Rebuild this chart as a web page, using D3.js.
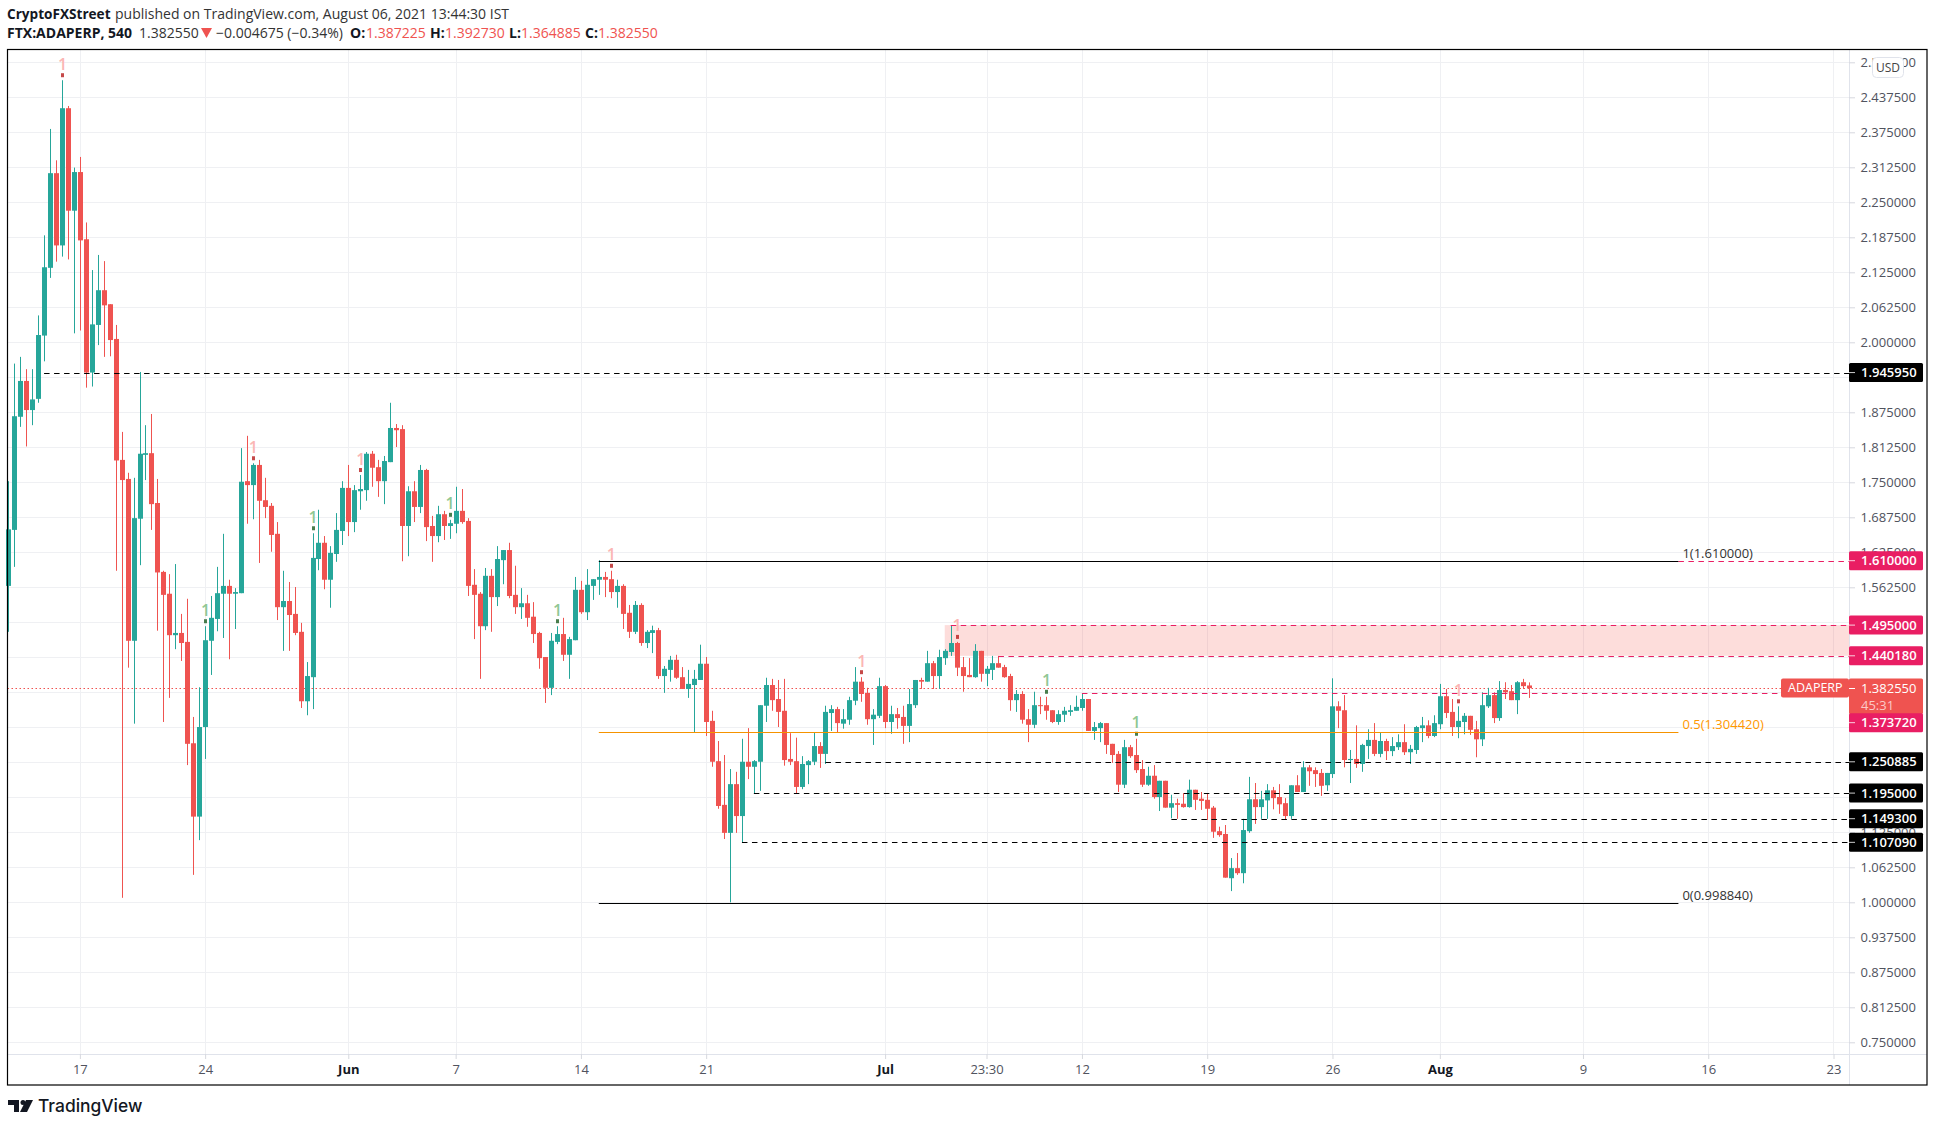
<!DOCTYPE html>
<html lang="en">
<head>
<meta charset="UTF-8">
<title>ADAPERP</title>
<style>
    body { margin: 0; background: #fff; }
    svg { display: block; }
    text { font-family: "Open Sans", Roboto, sans-serif; font-size: 13px; fill: #131722; }
    .axis text { font-family: "Open Sans", Roboto, sans-serif; font-size: 13px; fill: #50535e; }
    .axis .domain { display: none; }
    .axis line { stroke: #d6d8de; }
    .month { font-weight: 700; fill: #131722 !important; }
</style>
<script src="https://d3js.org/d3.v7.min.js"></script>
</head>
<body>
<svg width="1935" height="1127"></svg>
<script>
const opens = [
1.565,1.665,1.867,1.931,1.879,1.899,2.012,2.133,2.302,2.173,2.418,2.235,2.304,2.184,1.946,2.031,2.093,2.068,2.006,1.790,
1.756,1.467,1.685,1.799,1.802,1.713,1.590,1.551,1.477,1.481,1.465,1.284,1.153,1.313,1.467,1.506,1.551,1.565,1.551,1.552,
1.752,1.745,1.781,1.718,1.708,1.658,1.527,1.538,1.515,1.483,1.359,1.402,1.613,1.642,1.576,1.622,1.663,1.740,1.679,1.734,
1.736,1.801,1.777,1.752,1.786,1.847,1.845,1.672,1.734,1.706,1.772,1.672,1.654,1.693,1.672,1.676,1.699,1.681,1.567,1.551,
1.493,1.583,1.545,1.611,1.629,1.549,1.527,1.534,1.510,1.481,1.438,1.383,1.465,1.479,1.442,1.468,1.558,1.518,1.565,1.576,
1.581,1.577,1.554,1.565,1.517,1.483,1.531,1.463,1.481,1.486,1.404,1.415,1.433,1.402,1.381,1.388,1.397,1.426,1.324,1.252,
1.174,1.124,1.211,1.154,1.251,1.242,1.251,1.351,1.388,1.363,1.342,1.256,1.252,1.206,1.245,1.251,1.279,1.265,1.338,1.345,
1.319,1.326,1.360,1.394,1.374,1.327,1.333,1.386,1.322,1.336,1.331,1.315,1.352,1.397,1.394,1.427,1.404,1.436,1.447,1.463,
1.420,1.406,1.402,1.449,1.408,1.415,1.427,1.420,1.404,1.361,1.372,1.327,1.317,1.352,1.352,1.343,1.322,1.335,1.340,1.342,
1.347,1.363,1.306,1.311,1.320,1.283,1.265,1.210,1.277,1.263,1.238,1.210,1.226,1.188,1.217,1.169,1.177,1.176,1.170,1.201,
1.185,1.183,1.169,1.127,1.122,1.043,1.061,1.052,1.127,1.184,1.170,1.182,1.200,1.188,1.177,1.154,1.209,1.197,1.241,1.236,
1.231,1.209,1.229,1.350,1.343,1.254,1.256,1.247,1.279,1.290,1.265,1.288,1.270,1.277,1.286,1.268,1.272,1.311,1.316,1.297,
1.318,1.368,1.340,1.313,1.322,1.333,1.309,1.291,1.350,1.370,1.329,1.379,1.377,1.361,1.393,1.387225
];
const highs = [
1.752,1.962,1.974,1.952,1.952,2.048,2.191,2.381,2.325,2.468,2.422,2.312,2.331,2.214,2.129,2.156,2.145,2.068,2.031,1.840,
1.767,1.758,1.947,1.852,1.872,1.756,1.592,1.586,1.604,1.515,1.542,1.331,1.384,1.493,1.547,1.599,1.658,1.576,1.561,1.811,
1.833,1.784,1.790,1.758,1.713,1.679,1.592,1.572,1.563,1.499,1.429,1.659,1.701,1.654,1.636,1.695,1.752,1.781,1.745,1.763,
1.804,1.806,1.790,1.797,1.892,1.854,1.852,1.743,1.752,1.781,1.774,1.690,1.708,1.699,1.683,1.742,1.738,1.686,1.595,1.554,
1.597,1.595,1.636,1.629,1.642,1.601,1.561,1.549,1.536,1.483,1.438,1.481,1.493,1.508,1.474,1.581,1.574,1.595,1.577,1.611,
1.590,1.592,1.576,1.568,1.531,1.538,1.534,1.486,1.494,1.490,1.422,1.440,1.442,1.420,1.415,1.415,1.460,1.438,1.342,1.288,
1.263,1.238,1.233,1.292,1.311,1.254,1.352,1.401,1.399,1.397,1.399,1.302,1.294,1.261,1.254,1.304,1.286,1.351,1.352,1.349,
1.345,1.367,1.420,1.402,1.383,1.345,1.401,1.388,1.351,1.347,1.351,1.381,1.397,1.401,1.449,1.431,1.451,1.452,1.495,1.465,
1.438,1.436,1.461,1.449,1.422,1.440,1.440,1.424,1.408,1.379,1.377,1.345,1.376,1.367,1.367,1.343,1.343,1.349,1.352,1.369,
1.373,1.363,1.322,1.322,1.320,1.283,1.270,1.290,1.281,1.292,1.254,1.242,1.245,1.217,1.217,1.192,1.185,1.195,1.219,1.201,
1.197,1.195,1.172,1.135,1.138,1.079,1.088,1.149,1.224,1.213,1.199,1.211,1.206,1.211,1.186,1.209,1.227,1.252,1.245,1.241,
1.238,1.231,1.400,1.359,1.370,1.272,1.316,1.283,1.309,1.320,1.304,1.292,1.295,1.300,1.318,1.281,1.315,1.331,1.325,1.334,
1.390,1.381,1.363,1.350,1.338,1.333,1.324,1.375,1.383,1.375,1.395,1.393,1.388,1.395,1.399,1.39273
];
const lows = [
1.483,1.599,1.849,1.814,1.852,1.892,1.966,2.115,2.144,2.153,2.148,2.016,2.021,1.919,1.921,1.995,1.974,1.975,1.592,1.008,
1.419,1.319,1.602,1.754,1.665,1.485,1.322,1.365,1.452,1.431,1.245,1.049,1.111,1.256,1.406,1.484,1.472,1.434,1.488,1.552,
1.676,1.684,1.606,1.686,1.626,1.504,1.449,1.449,1.477,1.347,1.334,1.345,1.593,1.559,1.526,1.608,1.638,1.654,1.661,1.701,
1.717,1.742,1.724,1.711,1.786,1.813,1.609,1.618,1.679,1.695,1.645,1.608,1.643,1.647,1.649,1.659,1.676,1.547,1.470,1.399,
1.486,1.483,1.529,1.568,1.543,1.515,1.506,1.492,1.463,1.417,1.356,1.370,1.461,1.431,1.399,1.468,1.515,1.504,1.540,1.549,
1.545,1.543,1.526,1.488,1.472,1.479,1.458,1.454,1.445,1.399,1.374,1.394,1.399,1.381,1.365,1.304,1.397,1.297,1.242,1.167,
1.113,0.9999,1.124,1.107,1.220,1.195,1.199,1.322,1.342,1.313,1.244,1.245,1.195,1.202,1.211,1.245,1.240,1.247,1.306,1.304,
1.310,1.317,1.352,1.358,1.317,1.281,1.329,1.311,1.301,1.310,1.283,1.286,1.347,1.381,1.394,1.381,1.381,1.424,1.440,1.404,
1.376,1.402,1.401,1.394,1.386,1.397,1.419,1.401,1.342,1.340,1.319,1.286,1.311,1.336,1.326,1.320,1.317,1.322,1.333,1.342,
1.342,1.306,1.290,1.286,1.265,1.249,1.197,1.204,1.258,1.231,1.206,1.208,1.185,1.163,1.169,1.150,1.149,1.169,1.169,1.165,
1.165,1.147,1.115,1.117,1.044,1.020,1.049,1.034,1.124,1.140,1.149,1.149,1.166,1.158,1.147,1.149,1.197,1.197,1.208,1.206,
1.190,1.199,1.222,1.311,1.241,1.213,1.240,1.233,1.256,1.261,1.259,1.254,1.261,1.272,1.263,1.247,1.265,1.286,1.293,1.295,
1.309,1.329,1.297,1.293,1.300,1.299,1.259,1.279,1.347,1.320,1.324,1.363,1.361,1.336,1.381,1.364885
];
const closes = [
1.666,1.868,1.931,1.879,1.898,2.013,2.134,2.302,2.173,2.418,2.235,2.304,2.182,1.946,2.032,2.093,2.066,2.004,1.789,1.754,
1.467,1.686,1.801,1.802,1.711,1.589,1.549,1.477,1.481,1.463,1.283,1.153,1.313,1.468,1.508,1.552,1.565,1.551,1.554,1.751,
1.745,1.781,1.717,1.706,1.656,1.527,1.538,1.513,1.481,1.359,1.404,1.615,1.642,1.576,1.624,1.665,1.740,1.679,1.736,1.738,
1.801,1.776,1.752,1.788,1.847,1.843,1.672,1.734,1.706,1.772,1.670,1.654,1.693,1.672,1.677,1.699,1.679,1.565,1.549,1.493,
1.583,1.545,1.613,1.629,1.547,1.527,1.534,1.508,1.479,1.436,1.383,1.467,1.479,1.442,1.470,1.558,1.518,1.567,1.577,1.581,
1.576,1.554,1.565,1.515,1.483,1.531,1.463,1.483,1.486,1.404,1.417,1.433,1.401,1.381,1.390,1.399,1.426,1.322,1.251,1.172,
1.124,1.211,1.154,1.251,1.242,1.252,1.352,1.388,1.361,1.340,1.254,1.251,1.206,1.247,1.252,1.279,1.265,1.340,1.345,1.320,
1.327,1.361,1.394,1.372,1.327,1.335,1.386,1.322,1.336,1.329,1.315,1.354,1.397,1.394,1.427,1.404,1.438,1.449,1.463,1.419,
1.404,1.402,1.449,1.408,1.417,1.427,1.419,1.402,1.361,1.372,1.326,1.317,1.352,1.351,1.342,1.322,1.336,1.342,1.343,1.349,
1.363,1.306,1.313,1.320,1.281,1.263,1.210,1.277,1.261,1.236,1.210,1.226,1.188,1.217,1.169,1.177,1.174,1.170,1.201,1.183,
1.181,1.167,1.126,1.120,1.044,1.061,1.052,1.129,1.184,1.170,1.184,1.200,1.186,1.175,1.154,1.209,1.197,1.241,1.234,1.229,
1.208,1.231,1.350,1.342,1.254,1.256,1.247,1.281,1.290,1.265,1.288,1.270,1.279,1.286,1.268,1.274,1.313,1.316,1.297,1.320,
1.368,1.338,1.313,1.324,1.333,1.308,1.291,1.352,1.370,1.329,1.379,1.375,1.361,1.393,1.386,1.38255
];

// bar numbers of the sequence marks
const redMarks = [9, 41, 59, 101, 143, 159, 243];
const greenMarks = [33, 51, 74, 92, 174, 189];

const timeTicks = [12, 33, 57, 75, 96, 117, 147, 164, 180, 201, 222, 240, 264, 285, 306];
const timeLabels = ["17", "24", "Jun", "7", "14", "21", "Jul", "23:30", "12", "19", "26", "Aug", "9", "16", "23"];
const monthLabels = ["Jun", "Jul", "Aug"];

const gridPrices = d3.range(0, 29).map(i => 0.75 + i * 0.0625);
const priceLabels = [2.5, 2.4375, 2.375, 2.3125, 2.25, 2.1875, 2.125, 2.0625, 2, 1.875, 1.8125, 1.75, 1.6875, 1.625, 1.5625,
    1.125, 1.0625, 1, 0.9375, 0.875, 0.8125, 0.75];

// horizontal levels, the second list says at which bar they start
const blackLevels = [1.94595, 1.250885, 1.195, 1.1493, 1.10709];
const blackStarts = [6, 137, 125, 195, 123];
const pinkLevels = [1.61, 1.495, 1.44018, 1.37372];
const pinkStarts = [280, 158, 166, 180];

const fibPrices = [1.61, 1.30442, 0.99884];
const fibLabels = ["1(1.610000)", "0.5(1.304420)", "0(0.998840)"];
const fibStart = 99, fibEnd = 280;
const zoneTop = 1.495, zoneBottom = 1.44018, zoneStart = 157;

const lastClose = 1.38255;

const GREEN = "#26a69a", RED = "#ef5350", PINK = "#e91e63";
const plotLeft = 7.5, plotRight = 1927, plotTop = 49.5, plotBottom = 1085, axisX = 1849, axisY = 1054;

const x = d3.scaleLinear().domain([0, opens.length - 1]).range([8.3, 1529.3]);
const y = d3.scaleLinear().domain([0.75, 2.5]).range([1042.3, 62.3]);
const px = v => Math.round(v) + 0.5;

const svg = d3.select("svg");

// grid
svg.append("g").selectAll("line").data(gridPrices).enter().append("line")
    .attr("x1", plotLeft).attr("x2", axisX)
    .attr("y1", d => px(y(d))).attr("y2", d => px(y(d)))
    .attr("stroke", "#eff0f3");
svg.append("g").selectAll("line").data(timeTicks).enter().append("line")
    .attr("x1", d => px(x(d))).attr("x2", d => px(x(d)))
    .attr("y1", plotTop).attr("y2", axisY)
    .attr("stroke", "#eff0f3");

// pink zone
svg.append("rect")
    .attr("x", x(zoneStart)).attr("width", axisX - x(zoneStart))
    .attr("y", y(zoneTop)).attr("height", y(zoneBottom) - y(zoneTop))
    .attr("fill", "#f44336").attr("fill-opacity", 0.18);

// last price dotted line
svg.append("line")
    .attr("x1", plotLeft).attr("x2", 1781)
    .attr("y1", px(y(lastClose))).attr("y2", px(y(lastClose)))
    .attr("stroke", RED).attr("stroke-dasharray", "1.5,2.5");

// candles
const bars = d3.range(opens.length);
const barColor = i => closes[i] >= opens[i] ? GREEN : RED;
svg.append("g").selectAll("line").data(bars).enter().append("line")
    .attr("x1", i => px(x(i))).attr("x2", i => px(x(i)))
    .attr("y1", i => y(highs[i])).attr("y2", i => y(lows[i]))
    .attr("stroke", barColor);
svg.append("g").selectAll("rect").data(bars).enter().append("rect")
    .attr("x", i => Math.round(x(i)) - 2)
    .attr("width", 5)
    .attr("y", i => y(Math.max(opens[i], closes[i])))
    .attr("height", i => Math.max(1, Math.abs(y(opens[i]) - y(closes[i]))))
    .attr("fill", barColor);

// sequence marks
function drawMarks(list, textColor, dotColor) {
    const g = svg.append("g");
    g.selectAll("text").data(list).enter().append("text")
        .attr("x", i => x(i) + 0.5).attr("y", i => y(highs[i]) - 10.5)
        .attr("text-anchor", "middle")
        .style("fill", textColor).style("font-size", "16px").style("font-weight", 600)
        .text("1");
    g.selectAll("rect").data(list).enter().append("rect")
        .attr("x", i => Math.round(x(i)) - 1).attr("width", 3)
        .attr("y", i => y(highs[i]) - 7).attr("height", 4)
        .attr("fill", dotColor).attr("opacity", 0.8);
}
drawMarks(redMarks, "#fbb6b4", "#b71c1c");
drawMarks(greenMarks, "#8fc793", "#1b5e20");

// levels
svg.append("g").selectAll("line").data(blackLevels).enter().append("line")
    .attr("x1", (d, i) => x(blackStarts[i])).attr("x2", axisX)
    .attr("y1", d => px(y(d))).attr("y2", d => px(y(d)))
    .attr("stroke", "#000").attr("stroke-dasharray", "5.5,4.5");
svg.append("g").selectAll("line").data(pinkLevels).enter().append("line")
    .attr("x1", (d, i) => x(pinkStarts[i])).attr("x2", axisX)
    .attr("y1", d => px(y(d))).attr("y2", d => px(y(d)))
    .attr("stroke", PINK).attr("stroke-dasharray", "5.5,4.5");

// fib lines and labels
const fibColors = ["#000", "#f59300", "#000"];
const fibWidths = [1, 1.2, 1];
const fibTextColors = ["#333", "#ff9800", "#333"];
svg.append("g").selectAll("line").data(fibPrices).enter().append("line")
    .attr("x1", x(fibStart)).attr("x2", x(fibEnd))
    .attr("y1", d => px(y(d))).attr("y2", d => px(y(d)))
    .attr("stroke", (d, i) => fibColors[i]).attr("stroke-width", (d, i) => fibWidths[i]);
svg.append("g").selectAll("text").data(fibPrices).enter().append("text")
    .attr("x", x(fibEnd) + 4).attr("y", d => y(d) - 3)
    .style("fill", (d, i) => fibTextColors[i])
    .text((d, i) => fibLabels[i]);

// axis lines
svg.append("line").attr("x1", axisX + 0.5).attr("x2", axisX + 0.5).attr("y1", plotTop).attr("y2", plotBottom).attr("stroke", "#e0e3eb");
svg.append("line").attr("x1", plotLeft).attr("x2", plotRight).attr("y1", axisY + 0.5).attr("y2", axisY + 0.5).attr("stroke", "#e0e3eb");

// price axis
svg.append("g").attr("class", "axis").attr("transform", `translate(${axisX},0)`)
    .call(d3.axisRight(y).tickValues(priceLabels).tickFormat(d3.format(".6f")).tickSize(6))
    .call(g => g.selectAll("text").attr("x", 11.5));

// time axis
svg.append("g").attr("class", "axis").attr("transform", `translate(0,${axisY})`)
    .call(d3.axisBottom(x).tickValues(timeTicks).tickFormat((d, i) => timeLabels[i]).tickSize(5).tickPadding(6))
    .call(g => g.selectAll("text").classed("month", function () { return monthLabels.includes(this.textContent); }));

// price tags
function tagY(p) {
    // this one is pushed below the countdown box
    return p === 1.37372 ? y(lastClose) + 34.6 : y(p);
}
function drawTags(list, color) {
    const g = svg.append("g").selectAll("g").data(list).enter().append("g")
        .attr("transform", d => `translate(${axisX},${tagY(d)})`);
    g.append("rect").attr("y", -9.5).attr("width", 74).attr("height", 19).attr("rx", 1.5).attr("fill", color);
    g.append("line").attr("x2", 6).attr("stroke", "#fff").attr("opacity", 0.8);
    g.append("text").attr("x", 12).attr("dy", "0.35em").style("fill", "#fff").style("font-weight", 600)
        .text(d => d3.format(".6f")(d));
}

// last price box
const ly = y(lastClose);
svg.append("rect").attr("x", 1781).attr("y", ly - 9.5).attr("width", 68).attr("height", 19).attr("rx", 2).attr("fill", RED);
svg.append("rect").attr("x", axisX).attr("y", ly - 9.5).attr("width", 74).attr("height", 35.5).attr("rx", 1.5).attr("fill", RED);
svg.append("line").attr("x1", axisX).attr("x2", axisX + 6).attr("y1", px(ly)).attr("y2", px(ly)).attr("stroke", "#fff");
svg.append("text").attr("x", 1788).attr("y", ly).attr("dy", "0.35em").style("fill", "#fff").style("font-size", "12.5px").text("ADAPERP");
svg.append("text").attr("x", axisX + 12).attr("y", ly).attr("dy", "0.35em").style("fill", "#fff").text("1.382550");
svg.append("text").attr("x", axisX + 12).attr("y", ly + 17).attr("dy", "0.35em").style("fill", "#fbc9c8").text("45:31");

drawTags(pinkLevels, PINK);
drawTags(blackLevels, "#000");

// USD button
svg.append("rect").attr("x", 1872.5).attr("y", 57.5).attr("width", 31).attr("height", 20).attr("rx", 4)
    .attr("fill", "#fff").attr("stroke", "#e0e3eb");
svg.append("text").attr("x", 1888).attr("y", 67.5).attr("dy", "0.35em").attr("text-anchor", "middle")
    .style("font-size", "12px").style("fill", "#444").text("USD");

// frame
svg.append("rect").attr("x", plotLeft).attr("y", plotTop).attr("width", plotRight - plotLeft).attr("height", plotBottom - plotTop)
    .attr("fill", "none").attr("stroke", "#000").attr("stroke-width", 1.2);

// header
const header = svg.append("g");
function put(tx, ty, str, color, bold, size) {
    header.append("text").attr("x", tx).attr("y", ty).style("fill", color || "#131722")
        .style("font-size", (size || 14) + "px").style("font-weight", bold ? 700 : 400).text(str);
}
put(7, 19, "CryptoFXStreet", "#131722", true, 13.6);
put(115, 19, "published on TradingView.com, August 06, 2021 13:44:30 IST", "#333");
put(7, 38, "FTX:ADAPERP, 540", "#131722", true);
put(139, 38, "1.382550", "#333");
header.append("path").attr("d", "M201,28H212L206.5,38Z").attr("fill", RED);
put(216, 38, "\u22120.004675 (\u22120.34%)", "#333");
put(350, 38, "O:", "#131722", true);
put(366, 38, "1.387225", RED);
put(430, 38, "H:", "#131722", true);
put(445, 38, "1.392730", RED);
put(509, 38, "L:", "#131722", true);
put(521, 38, "1.364885", RED);
put(585, 38, "C:", "#131722", true);
put(598, 38, "1.382550", RED);

// logo
const logo = svg.append("g").attr("fill", "#131722");
logo.append("path").attr("d", "M8,1100H19V1112H14V1105H8Z");
logo.append("circle").attr("cx", 23).attr("cy", 1102.5).attr("r", 2.5);
logo.append("path").attr("d", "M26,1100H33L27,1112H20Z");
svg.append("text").attr("x", 38).attr("y", 1112)
    .style("font-family", "Inter, Roboto, sans-serif").style("font-size", "17.4px").style("font-weight", 500)
    .style("fill", "#131722").text("TradingView");
</script>
</body>
</html>
